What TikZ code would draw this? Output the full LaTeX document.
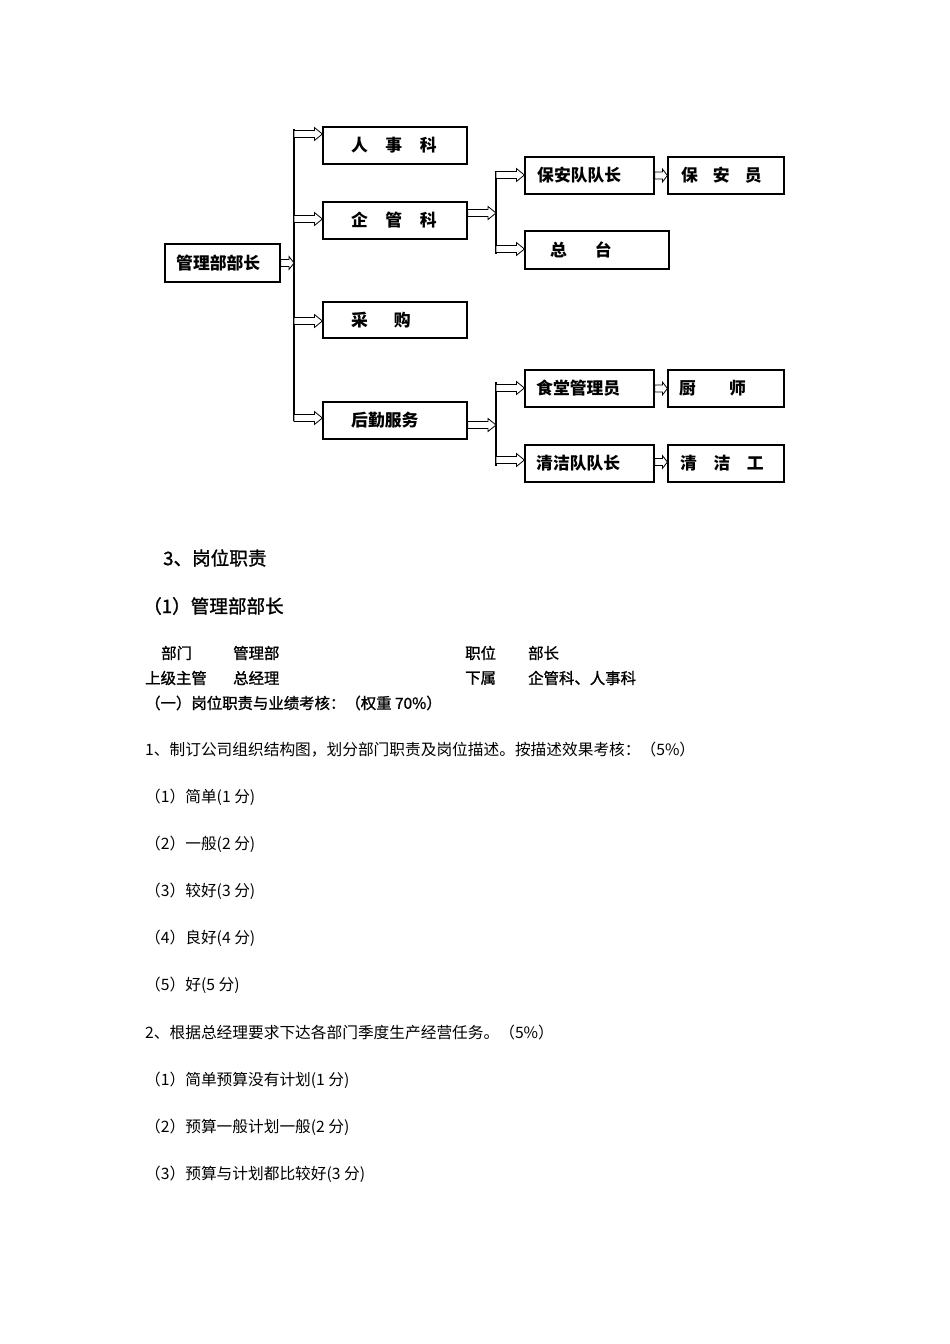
\documentclass[tikz,border=0pt]{standalone}
\usepackage{fontspec}
\newfontfamily\cjk{Noto Sans CJK SC}
\newfontfamily\cjkm{Noto Sans CJK SC}[FakeBold=1.2]
\usetikzlibrary{calc}
\tikzset{
  box/.style={draw, line width=1.2pt, inner sep=0, minimum width=144pt, minimum height=37pt},
  bt/.style={anchor=west, inner sep=0, font=\cjk\bfseries\fontsize{16.8}{16.8}\selectfont},
  ht/.style={anchor=west, inner sep=0, font=\cjkm\fontsize{18.6}{18.6}\selectfont},
  rt/.style={anchor=west, inner sep=0, font=\cjkm\fontsize{15.4}{15.4}\selectfont},
  nt/.style={anchor=west, inner sep=0, font=\cjk\fontsize{15.7}{15.7}\selectfont},
  vline/.style={line width=1.2pt},
  arr/.style={draw=black, fill=white, line width=0.8pt, line join=miter}
}
\newcommand{\blkarrow}[3][8]{%
  \path[arr] let \p1=(#2), \p2=(#3) in
    (\x1,\y1+3.5pt) -- (\x2-#1pt,\y1+3.5pt) -- (\x2-#1pt,\y1+6.5pt) -- (\x2,\y1)
    -- (\x2-#1pt,\y1-6.5pt) -- (\x2-#1pt,\y1-3.5pt) -- (\x1,\y1-3.5pt) -- cycle;}
\begin{document}
\begin{tikzpicture}[x=1pt,y=-1pt]
\useasboundingbox (0,0) rectangle (950,1344);
% boxes
\node[box, minimum width=115pt, minimum height=38pt] (glb) at (222.5,263) {};
\node[box] (rsk) at (395,145.5) {};
\node[box] (qgk) at (395,220.5) {};
\node[box, minimum height=36pt] (cg) at (395,320) {};
\node[box] (hq) at (395,420.5) {};
\node[box, minimum width=129pt] (badz) at (589.5,175.5) {};
\node[box, minimum width=116pt] (bay) at (726,175.5) {};
\node[box, minimum height=38pt] (zt) at (597,250) {};
\node[box, minimum width=129pt] (st) at (589.5,388.5) {};
\node[box, minimum width=116pt] (cs) at (726,388.5) {};
\node[box, minimum width=129pt] (qj) at (589.5,463.5) {};
\node[box, minimum width=116pt] (qjg) at (726,463.5) {};
% box texts
\node[bt] (glb-t) at (176,263) {管理部部长};
\node[bt] (rsk-t) at (351,145.5) {人\hspace{17.5pt}事\hspace{17.5pt}科};
\node[bt] (qgk-t) at (351,220.5) {企\hspace{17.5pt}管\hspace{17.5pt}科};
\node[bt] (cg-t) at (351,320) {采\hspace{26pt}购};
\node[bt] (hq-t) at (351,420.5) {后勤服务};
\node[bt] (badz-t) at (537,175.5) {保安队队长};
\node[bt] (bay-t) at (681,175.5) {保\hspace{15pt}安\hspace{15pt}员};
\node[bt] (zt-t) at (550,250) {总\hspace{28pt}台};
\node[bt] (st-t) at (536,388.5) {食堂管理员};
\node[bt] (cs-t) at (679,388.5) {厨\hspace{33pt}师};
\node[bt] (qj-t) at (536,463.5) {清洁队队长};
\node[bt] (qjg-t) at (680,463.5) {清\hspace{16.5pt}洁\hspace{16.5pt}工};
% vertical bus lines
\coordinate (v1top) at (294,129);
\coordinate (v1bot) at (294,421);
\coordinate (v1in) at (294,263);
\coordinate (v1a) at (294,134);
\coordinate (v1b) at (294,219);
\coordinate (v1c) at (294,321);
\coordinate (v1d) at (294,418);
\coordinate (v2top) at (496,171);
\coordinate (v2bot) at (496,254);
\coordinate (v2in) at (496,213);
\coordinate (v2a) at (496,175);
\coordinate (v2b) at (496,249);
\coordinate (v3top) at (496,382);
\coordinate (v3bot) at (496,466);
\coordinate (v3in) at (496,425);
\coordinate (v3a) at (496,388);
\coordinate (v3b) at (496,460);
\draw[vline] (v1top) -- (v1bot);
\draw[vline] (v2top) -- (v2bot);
\draw[vline] (v3top) -- (v3bot);
% arrows
\blkarrow[5]{glb.east}{v1in}
\blkarrow{v1a}{rsk.west}
\blkarrow{v1b}{qgk.west}
\blkarrow{v1c}{cg.west}
\blkarrow{v1d}{hq.west}
\blkarrow{[yshift=7.5pt]qgk.east}{v2in}
\blkarrow{v2a}{badz.west}
\blkarrow{v2b}{zt.west}
\blkarrow{[yshift=-4.5pt]hq.east}{v3in}
\blkarrow{v3a}{st.west}
\blkarrow{v3b}{qj.west}
\blkarrow[5]{badz.east}{bay.west}
\blkarrow[5]{st.east}{cs.west}
\blkarrow[5]{[yshift=1.5pt]qj.east}{qjg.west}
% text section
\node[ht] (h1) at (163,558) {3、岗位职责};
\node[ht] (h2) at (143,606) {（1）管理部部长};
\node[rt] (r1a) at (161,653) {部门};
\node[rt] (r1b) at (233,653) {管理部};
\node[rt] (r1c) at (465,653) {职位};
\node[rt] (r1d) at (528,653) {部长};
\node[rt] (r2a) at (145,678) {上级主管};
\node[rt] (r2b) at (233,678) {总经理};
\node[rt] (r2c) at (465,678) {下属};
\node[rt] (r2d) at (528,678) {企管科、人事科};
\node[rt] (r3) at (145,703) {（一）岗位职责与业绩考核：（权重 70\%）};
\node[nt] (l1) at (145,750) {1、制订公司组织结构图，划分部门职责及岗位描述。按描述效果考核：（5\%）};
\node[nt] (l2) at (145,797) {（1）简单(1 分)};
\node[nt] (l3) at (145,844) {（2）一般(2 分)};
\node[nt] (l4) at (145,891) {（3）较好(3 分)};
\node[nt] (l5) at (145,938) {（4）良好(4 分)};
\node[nt] (l6) at (145,985) {（5）好(5 分)};
\node[nt] (l7) at (145,1033) {2、根据总经理要求下达各部门季度生产经营任务。（5\%）};
\node[nt] (l8) at (145,1080) {（1）简单预算没有计划(1 分)};
\node[nt] (l9) at (145,1127) {（2）预算一般计划一般(2 分)};
\node[nt] (l10) at (145,1174) {（3）预算与计划都比较好(3 分)};
\end{tikzpicture}
\end{document}
